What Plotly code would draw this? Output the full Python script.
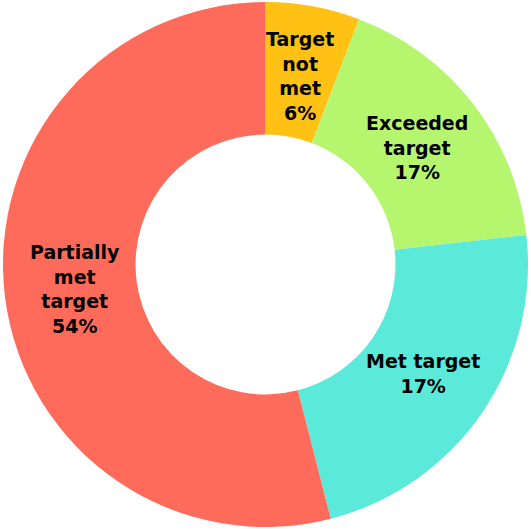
import math
import plotly.graph_objects as go

categories = ["Target not met", "Exceeded target", "Met target", "Partially met target"]
slice_labels = ["Target<br>not<br>met", "Exceeded<br>target", "Met target", "Partially<br>met<br>target"]
values = [5.8, 17.4, 22.8, 54.0]
shown_pct = ["6%", "17%", "17%", "54%"]
colors = ["#FFC214", "#B6F56E", "#5BEAD9", "#FF6B5B"]

W, H = 531, 529
M = 2
HOLE = 0.495
LABEL_R = 0.73  # label radius as a fraction of the outer radius

fig = go.Figure(go.Pie(
    labels=categories,
    values=values,
    textinfo="none",
    hole=HOLE,
    sort=False,
    direction="clockwise",
    rotation=0,
    marker=dict(colors=colors, line=dict(width=0)),
    hoverinfo="skip",
))

# label positions derived from the slice mid-angles
pw, ph = W - 2 * M, H - 2 * M
R = min(pw, ph) / 2
total = sum(values)
cum = 0.0
annotations = []
for lab, pct, v in zip(slice_labels, shown_pct, values):
    mid = (cum + v / 2) / total * 2 * math.pi
    cum += v
    r = LABEL_R * R
    annotations.append(dict(
        x=0.5 + r * math.sin(mid) / pw,
        y=0.5 + r * math.cos(mid) / ph,
        xref="paper", yref="paper",
        xanchor="center", yanchor="middle",
        text=f"{lab}<br>{pct}",
        showarrow=False,
        align="center",
        font=dict(family="DejaVu Sans", size=19, color="#000000", weight="bold"),
    ))

fig.update_layout(
    width=W, height=H,
    margin=dict(l=M, r=M, t=M, b=M),
    showlegend=False,
    paper_bgcolor="white",
    annotations=annotations,
)
fig.write_html("out.html", config={"displayModeBar": False},
               post_script="document.body.style.margin='0px';document.body.style.padding='0px';")
